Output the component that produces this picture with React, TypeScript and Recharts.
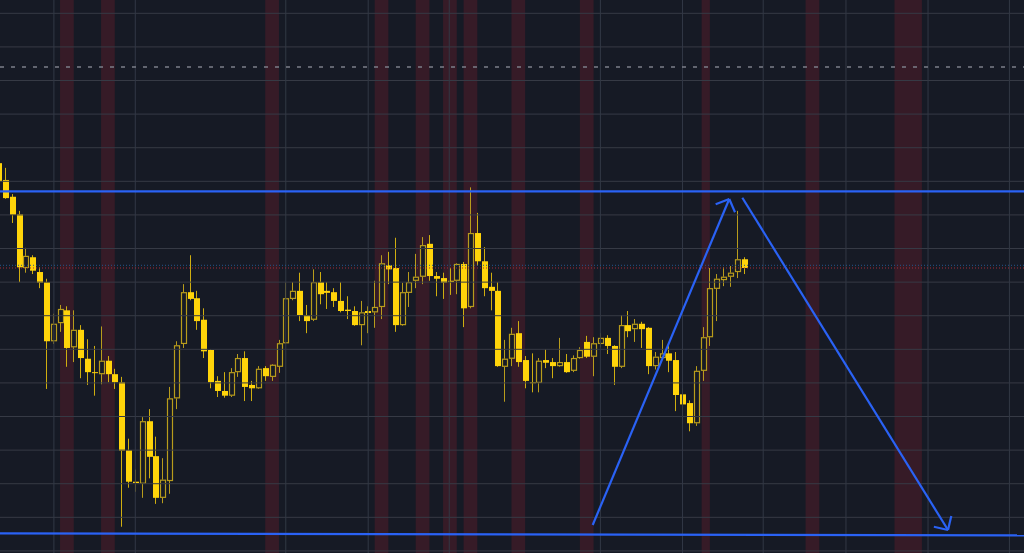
import { ComposedChart, Bar, XAxis, YAxis, ReferenceLine, ReferenceArea } from 'recharts'

// candle OHLC, one entry per bar (index = bar number)
const opens = [
  2657.7, 2655.2, 2652.7, 2650.1, 2642.1, 2643.7, 2641.5, 2640.0, 2631.2, 2633.9,
  2635.8, 2630.3, 2632.9, 2628.6, 2626.6, 2626.3, 2628.3, 2626.3, 2625.1, 2615.0,
  2610.3, 2610.0, 2619.3, 2614.1, 2607.9, 2610.4, 2622.7, 2630.8, 2638.5, 2637.6,
  2634.4, 2629.9, 2625.3, 2623.8, 2623.1, 2626.6, 2628.7, 2624.7, 2624.2, 2627.2,
  2625.9, 2627.4, 2630.9, 2637.5, 2638.7, 2635.1, 2634.4, 2640.0, 2638.7, 2638.5,
  2637.2, 2635.9, 2635.7, 2633.6, 2635.7, 2635.5, 2636.3, 2642.5, 2642.1, 2633.6,
  2638.4, 2640.2, 2640.8, 2645.7, 2640.9, 2640.6, 2640.2, 2640.2, 2642.7, 2636.3,
  2647.3, 2643.1, 2639.3, 2638.7, 2627.4, 2628.6, 2632.4, 2628.4, 2625.1, 2625.0,
  2628.4, 2628.1, 2627.5, 2628.1, 2626.8, 2628.7, 2631.1, 2628.9, 2630.8, 2631.7,
  2630.5, 2627.4, 2633.6, 2633.0, 2633.8, 2633.2, 2627.5, 2628.7, 2629.4, 2628.4,
  2623.3, 2622.0, 2619.0, 2626.8, 2631.8, 2639.0, 2640.3, 2640.8, 2641.5, 2643.4,
]
const highs = [
  2658.5, 2657.0, 2653.1, 2650.6, 2645.1, 2644.0, 2642.2, 2640.5, 2635.3, 2636.6,
  2636.4, 2635.8, 2633.6, 2631.5, 2630.5, 2633.4, 2629.0, 2627.1, 2625.9, 2616.7,
  2612.1, 2619.9, 2621.1, 2617.0, 2613.8, 2624.4, 2631.2, 2639.7, 2644.0, 2638.7,
  2636.1, 2630.0, 2626.0, 2626.6, 2627.2, 2629.3, 2629.7, 2625.3, 2627.5, 2627.5,
  2627.8, 2631.4, 2640.0, 2640.0, 2641.4, 2636.6, 2641.9, 2641.5, 2640.0, 2639.1,
  2640.0, 2637.9, 2636.4, 2637.2, 2636.4, 2640.2, 2644.0, 2644.5, 2646.6, 2639.9,
  2641.5, 2644.2, 2646.7, 2647.0, 2641.5, 2641.4, 2642.1, 2642.8, 2643.0, 2654.1,
  2650.3, 2645.2, 2641.4, 2640.0, 2631.4, 2633.2, 2634.2, 2629.0, 2629.4, 2628.7,
  2630.0, 2628.7, 2631.7, 2629.3, 2629.1, 2630.3, 2632.0, 2631.8, 2632.4, 2632.1,
  2630.6, 2635.1, 2635.7, 2634.5, 2634.1, 2633.3, 2629.6, 2631.4, 2630.5, 2629.6,
  2624.2, 2622.4, 2627.5, 2633.3, 2642.1, 2641.2, 2642.2, 2642.4, 2650.6, 2643.7,
]
const lows = [
  2654.7, 2652.4, 2648.8, 2640.0, 2641.4, 2641.2, 2639.1, 2624.1, 2630.8, 2632.6,
  2627.4, 2628.1, 2625.7, 2624.7, 2623.1, 2624.8, 2625.1, 2624.1, 2603.6, 2609.4,
  2608.8, 2607.9, 2610.8, 2607.0, 2607.1, 2608.5, 2621.1, 2630.2, 2637.3, 2632.9,
  2628.7, 2624.2, 2622.9, 2622.8, 2622.9, 2625.9, 2622.3, 2622.3, 2624.1, 2625.3,
  2625.3, 2626.5, 2630.8, 2637.3, 2634.2, 2632.4, 2634.2, 2636.7, 2636.0, 2636.3,
  2635.5, 2634.5, 2633.5, 2630.6, 2632.4, 2633.2, 2634.5, 2639.7, 2632.6, 2633.5,
  2636.3, 2639.1, 2639.7, 2640.2, 2637.9, 2637.5, 2638.1, 2638.2, 2633.3, 2636.1,
  2642.4, 2637.9, 2635.8, 2627.4, 2622.2, 2627.5, 2627.4, 2624.2, 2623.6, 2623.6,
  2627.2, 2625.7, 2627.4, 2626.5, 2626.6, 2628.6, 2628.7, 2626.0, 2630.3, 2629.3,
  2624.7, 2627.2, 2631.8, 2631.1, 2630.2, 2626.3, 2627.0, 2628.4, 2626.6, 2620.8,
  2618.9, 2617.8, 2618.6, 2625.3, 2630.5, 2634.2, 2639.4, 2639.3, 2640.6, 2641.2,
]
const closes = [
  2655.0, 2652.5, 2650.0, 2642.2, 2643.9, 2641.7, 2639.9, 2631.2, 2633.8, 2636.0,
  2630.2, 2632.9, 2628.7, 2626.6, 2626.5, 2628.3, 2626.3, 2625.1, 2614.9, 2610.3,
  2610.1, 2619.3, 2614.0, 2607.9, 2610.6, 2622.7, 2630.6, 2638.5, 2637.5, 2634.2,
  2629.7, 2625.1, 2623.8, 2623.1, 2626.6, 2628.7, 2624.4, 2624.2, 2627.1, 2626.0,
  2627.7, 2630.9, 2637.6, 2638.7, 2635.1, 2634.2, 2640.0, 2638.2, 2638.4, 2637.2,
  2635.7, 2635.7, 2633.6, 2635.5, 2635.4, 2636.3, 2642.8, 2641.9, 2633.6, 2638.5,
  2640.0, 2640.8, 2645.5, 2640.9, 2640.5, 2639.9, 2640.0, 2642.7, 2636.1, 2647.3,
  2643.1, 2639.1, 2638.7, 2627.5, 2628.6, 2632.3, 2628.1, 2625.3, 2625.0, 2628.3,
  2628.0, 2627.5, 2628.1, 2626.6, 2628.7, 2629.9, 2628.9, 2630.9, 2631.7, 2630.5,
  2627.4, 2633.6, 2632.7, 2633.8, 2633.0, 2627.5, 2628.9, 2629.4, 2628.3, 2623.2,
  2621.8, 2619.0, 2626.8, 2631.8, 2639.1, 2640.5, 2640.8, 2641.4, 2643.4, 2642.1,
]

// session shading (bar-index ranges)
const sessionStarts = [9, 15, 39, 55, 61, 65, 68, 75, 85, 102.8, 118, 131]
const sessionEnds = [11, 17, 41, 57, 63, 67, 70, 77, 87, 104, 120, 135]

// grid
const timeGrid = [8.1, 20, 42, 54.05, 65.9, 88, 100, 111.8, 123.9, 135.9, 147.8]
const priceGrid = [2600, 2605, 2610, 2615, 2620, 2625, 2630, 2635, 2640, 2645, 2650, 2655, 2660, 2665, 2670, 2675, 2680]

// drawn levels and arrows
const resistance = 2653.5
const support = [2602.6, 2602.3]
const dashedLevel = 2672.0
const dottedBlue = 2642.5
const dottedRed = 2642.1
const upArrow = [[86.87, 2603.85], [106.84, 2652.37], [104.85, 2651.58], [107.68, 2650.39]]
const downArrow = [[108.75, 2652.56], [138.82, 2603.11], [139.3, 2605.21], [136.75, 2603.6]]

const X_DOMAIN: [number, number] = [0.22, 149.93]
const Y_DOMAIN: [number, number] = [2599.69, 2681.98]

const BG = '#161a25'
const BLUE = '#2a62f5'
const UP = '#b89c1c'
const DOWN = '#ffd40a'

const candles = opens.map((o, i) => ({
  idx: i,
  open: o,
  high: highs[i],
  low: lows[i],
  close: closes[i],
  range: [lows[i], highs[i]],
}))

function Candle(props: any) {
  const { x, y, width, height, payload } = props
  if (x == null || y == null) return null
  const { open, close, high, low } = payload
  const k = height / Math.max(high - low, 1e-6)
  const cx = Math.round(x + width / 2)
  const top = y + (high - Math.max(open, close)) * k
  const bottom = y + (high - Math.min(open, close)) * k
  const bodyH = Math.max(bottom - top, 1)
  const bull = close > open
  if (bull) {
    return (
      <g>
        <line x1={cx + 0.5} x2={cx + 0.5} y1={y} y2={top} stroke={UP} strokeWidth={1} />
        <line x1={cx + 0.5} x2={cx + 0.5} y1={top + bodyH} y2={y + height} stroke={UP} strokeWidth={1} />
        <rect x={cx - 1.5} y={top + 0.5} width={5} height={Math.max(bodyH - 1, 0.5)} fill={BG} stroke={UP} strokeWidth={1.2} />
      </g>
    )
  }
  return (
    <g>
      <line x1={cx + 0.5} x2={cx + 0.5} y1={y} y2={y + height} stroke="#cfae10" strokeWidth={1} />
      <rect x={cx - 2} y={top} width={6} height={bodyH} fill={DOWN} />
    </g>
  )
}

export default function App() {
  return (
    <div style={{ position: 'fixed', left: 0, top: 0, width: 1024, height: 553, background: BG, overflow: 'hidden' }}>
      <ComposedChart width={1024} height={553} data={candles} margin={{ top: 0, right: 0, bottom: 0, left: 0 }}>
        <XAxis dataKey="idx" type="number" domain={X_DOMAIN} allowDataOverflow hide />
        <YAxis type="number" domain={Y_DOMAIN} allowDataOverflow hide />
        {sessionStarts.map((s, i) => (
          <ReferenceArea key={'s' + i} x1={s} x2={sessionEnds[i]} fill="rgb(125,30,45)" fillOpacity={0.32} stroke="none" ifOverflow="hidden" />
        ))}
        {priceGrid.map((p) => (
          <ReferenceLine key={'h' + p} y={p} stroke="#363a45" strokeWidth={1} />
        ))}
        {timeGrid.map((t) => (
          <ReferenceLine key={'v' + t} x={t} stroke="#323845" strokeWidth={1} />
        ))}
        <ReferenceLine y={dashedLevel} stroke="#7c7f89" strokeWidth={1.5} strokeDasharray="4 7" />
        <ReferenceLine y={dottedBlue} stroke="#25568a" strokeWidth={1} strokeDasharray="1 2" />
        <ReferenceLine y={dottedRed} stroke="#a0303c" strokeWidth={1} strokeDasharray="1 2" />
        <Bar dataKey="range" barSize={6} shape={<Candle />} isAnimationActive={false} />
        <ReferenceLine y={resistance} stroke={BLUE} strokeWidth={2.2} />
        <ReferenceLine segment={[{ x: X_DOMAIN[0], y: support[0] }, { x: X_DOMAIN[1], y: support[1] }]} stroke={BLUE} strokeWidth={2.2} ifOverflow="visible" />
        {[upArrow, downArrow].map((a, n) => (
          <g key={'a' + n}>
            <ReferenceLine segment={[{ x: a[0][0], y: a[0][1] }, { x: a[1][0], y: a[1][1] }]} stroke={BLUE} strokeWidth={2.2} ifOverflow="visible" />
            <ReferenceLine segment={[{ x: a[2][0], y: a[2][1] }, { x: a[1][0], y: a[1][1] }]} stroke={BLUE} strokeWidth={2.2} ifOverflow="visible" />
            <ReferenceLine segment={[{ x: a[3][0], y: a[3][1] }, { x: a[1][0], y: a[1][1] }]} stroke={BLUE} strokeWidth={2.2} ifOverflow="visible" />
          </g>
        ))}
      </ComposedChart>
    </div>
  )
}
